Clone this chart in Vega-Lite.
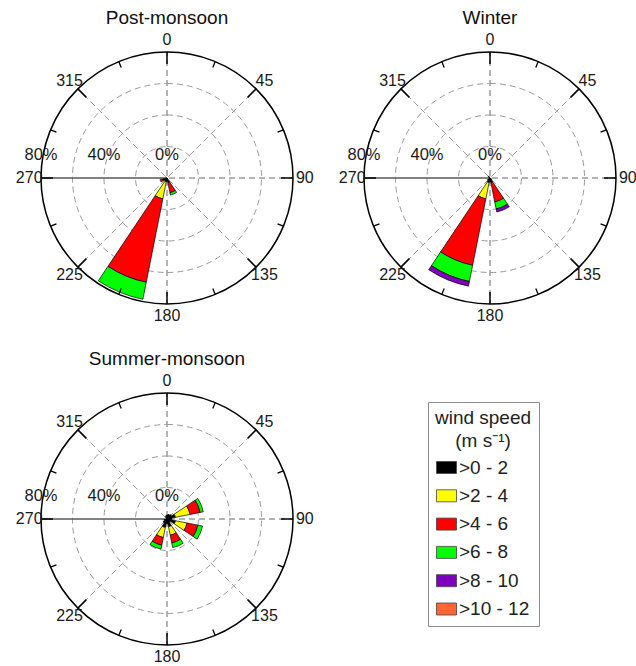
{
  "$schema": "https://vega.github.io/schema/vega-lite/v6.json",
  "padding": {"left": 15, "top": 9, "right": 0, "bottom": 0},
  "bounds": "flush",
  "spacing": 341,
  "resolve": {"scale": {"theta": "independent", "radius": "independent", "color": "shared"}, "legend": {"color": "shared"}},
  "datasets": {
    "wind": [
      {"season": "Post-monsoon", "dir": 202.5, "speed": ">0 - 2", "lo": 0, "hi": 2.5},
      {"season": "Post-monsoon", "dir": 202.5, "speed": ">2 - 4", "lo": 2.5, "hi": 13.5},
      {"season": "Post-monsoon", "dir": 202.5, "speed": ">4 - 6", "lo": 13.5, "hi": 67.5},
      {"season": "Post-monsoon", "dir": 202.5, "speed": ">6 - 8", "lo": 67.5, "hi": 78.5},
      {"season": "Post-monsoon", "dir": 157.5, "speed": ">0 - 2", "lo": 0, "hi": 3},
      {"season": "Post-monsoon", "dir": 157.5, "speed": ">4 - 6", "lo": 3, "hi": 9.5},
      {"season": "Post-monsoon", "dir": 157.5, "speed": ">6 - 8", "lo": 9.5, "hi": 11},
      {"season": "Post-monsoon", "dir": 247.5, "speed": ">0 - 2", "lo": 0, "hi": 3},
      {"season": "Post-monsoon", "dir": 247.5, "speed": ">4 - 6", "lo": 3, "hi": 4.5},
      {"season": "Post-monsoon", "dir": 180, "speed": ">0 - 2", "lo": 0, "hi": 2},
      {"season": "Post-monsoon", "dir": 225, "speed": ">0 - 2", "lo": 0, "hi": 2},
      {"season": "Winter", "dir": 202.5, "speed": ">0 - 2", "lo": 0, "hi": 3},
      {"season": "Winter", "dir": 202.5, "speed": ">2 - 4", "lo": 3, "hi": 13.5},
      {"season": "Winter", "dir": 202.5, "speed": ">4 - 6", "lo": 13.5, "hi": 56.5},
      {"season": "Winter", "dir": 202.5, "speed": ">6 - 8", "lo": 56.5, "hi": 67},
      {"season": "Winter", "dir": 202.5, "speed": ">8 - 10", "lo": 67, "hi": 70},
      {"season": "Winter", "dir": 157.5, "speed": ">0 - 2", "lo": 0, "hi": 3},
      {"season": "Winter", "dir": 157.5, "speed": ">4 - 6", "lo": 3, "hi": 15.5},
      {"season": "Winter", "dir": 157.5, "speed": ">6 - 8", "lo": 15.5, "hi": 20},
      {"season": "Winter", "dir": 157.5, "speed": ">8 - 10", "lo": 20, "hi": 22},
      {"season": "Winter", "dir": 180, "speed": ">0 - 2", "lo": 0, "hi": 2.5},
      {"season": "Winter", "dir": 225, "speed": ">0 - 2", "lo": 0, "hi": 2},
      {"season": "Winter", "dir": 135, "speed": ">0 - 2", "lo": 0, "hi": 1.5},
      {"season": "Winter", "dir": 315, "speed": ">0 - 2", "lo": 0, "hi": 1.5},
      {"season": "Summer-monsoon", "dir": 67.5, "speed": ">0 - 2", "lo": 0, "hi": 5.5},
      {"season": "Summer-monsoon", "dir": 67.5, "speed": ">2 - 4", "lo": 5.5, "hi": 15},
      {"season": "Summer-monsoon", "dir": 67.5, "speed": ">4 - 6", "lo": 15, "hi": 21.5},
      {"season": "Summer-monsoon", "dir": 67.5, "speed": ">6 - 8", "lo": 21.5, "hi": 23.5},
      {"season": "Summer-monsoon", "dir": 112.5, "speed": ">0 - 2", "lo": 0, "hi": 5.5},
      {"season": "Summer-monsoon", "dir": 112.5, "speed": ">2 - 4", "lo": 5.5, "hi": 13},
      {"season": "Summer-monsoon", "dir": 112.5, "speed": ">4 - 6", "lo": 13, "hi": 20},
      {"season": "Summer-monsoon", "dir": 112.5, "speed": ">6 - 8", "lo": 20, "hi": 23},
      {"season": "Summer-monsoon", "dir": 157.5, "speed": ">0 - 2", "lo": 0, "hi": 5},
      {"season": "Summer-monsoon", "dir": 157.5, "speed": ">2 - 4", "lo": 5, "hi": 10.5},
      {"season": "Summer-monsoon", "dir": 157.5, "speed": ">4 - 6", "lo": 10.5, "hi": 15.5},
      {"season": "Summer-monsoon", "dir": 157.5, "speed": ">6 - 8", "lo": 15.5, "hi": 18.5},
      {"season": "Summer-monsoon", "dir": 202.5, "speed": ">0 - 2", "lo": 0, "hi": 5.5},
      {"season": "Summer-monsoon", "dir": 202.5, "speed": ">2 - 4", "lo": 5.5, "hi": 12},
      {"season": "Summer-monsoon", "dir": 202.5, "speed": ">4 - 6", "lo": 12, "hi": 17},
      {"season": "Summer-monsoon", "dir": 202.5, "speed": ">6 - 8", "lo": 17, "hi": 19.5},
      {"season": "Summer-monsoon", "dir": 0, "speed": ">0 - 2", "lo": 0, "hi": 2.5},
      {"season": "Summer-monsoon", "dir": 22.5, "speed": ">0 - 2", "lo": 0, "hi": 3},
      {"season": "Summer-monsoon", "dir": 45, "speed": ">0 - 2", "lo": 0, "hi": 3.5},
      {"season": "Summer-monsoon", "dir": 90, "speed": ">0 - 2", "lo": 0, "hi": 3},
      {"season": "Summer-monsoon", "dir": 135, "speed": ">0 - 2", "lo": 0, "hi": 2.5},
      {"season": "Summer-monsoon", "dir": 180, "speed": ">0 - 2", "lo": 0, "hi": 3},
      {"season": "Summer-monsoon", "dir": 225, "speed": ">0 - 2", "lo": 0, "hi": 3},
      {"season": "Summer-monsoon", "dir": 247.5, "speed": ">0 - 2", "lo": 0, "hi": 2},
      {"season": "Summer-monsoon", "dir": 337.5, "speed": ">0 - 2", "lo": 0, "hi": 2}
    ],
    "rings": [{"r": 20}, {"r": 40}, {"r": 60}],
    "outer": [{"r": 80}],
    "spokes": [{"a": 0}, {"a": 45}, {"a": 90}, {"a": 135}, {"a": 180}, {"a": 225}, {"a": 315}],
    "raxis": [{"a": 270}],
    "ticks": [
      {"a": 0, "k": "major"}, {"a": 22.5, "k": "minor"}, {"a": 45, "k": "major"}, {"a": 67.5, "k": "minor"},
      {"a": 90, "k": "major"}, {"a": 112.5, "k": "minor"}, {"a": 135, "k": "major"}, {"a": 157.5, "k": "minor"},
      {"a": 180, "k": "major"}, {"a": 202.5, "k": "minor"}, {"a": 225, "k": "major"}, {"a": 247.5, "k": "minor"},
      {"a": 270, "k": "major"}, {"a": 292.5, "k": "minor"}, {"a": 315, "k": "major"}, {"a": 337.5, "k": "minor"}
    ],
    "dirlab": [
      {"a": 0, "t": "0"}, {"a": 45, "t": "45"}, {"a": 90, "t": "90"}, {"a": 135, "t": "135"},
      {"a": 180, "t": "180"}, {"a": 225, "t": "225"}, {"a": 270, "t": "270"}, {"a": 315, "t": "315"}
    ],
    "pct": [{"p": 0, "t": "0%"}, {"p": 40, "t": "40%"}, {"p": 80, "t": "80%"}]
  },
  "vconcat": [
    {
      "hconcat": [
        {
          "title": "Post-monsoon",
          "width": 290, "height": 290,
          "resolve": {"scale": {"theta": "independent"}},
          "layer": [
            {"data": {"name": "rings"}, "mark": {"type": "arc", "filled": false, "stroke": "#9a9a9a", "strokeWidth": 1, "strokeDash": [6, 4]},
             "encoding": {"theta": {"datum": 0, "type": "quantitative", "scale": {"type": "linear", "domain": [0, 360], "range": [0, 6.283185307179586], "zero": false, "nice": false}}, "theta2": {"datum": 360},
               "radius": {"field": "r", "type": "quantitative", "scale": {"type": "linear", "domain": [0, 80], "range": [0, 126], "zero": true, "nice": false}}, "radius2": {"datum": 0}}},
            {"data": {"name": "spokes"}, "mark": {"type": "arc", "filled": false, "stroke": "#9a9a9a", "strokeWidth": 1, "strokeDash": [6, 4], "strokeDashOffset": 2},
             "encoding": {"theta": {"field": "a", "type": "quantitative", "scale": {"type": "linear", "domain": [0, 360], "range": [0, 6.283185307179586], "zero": false, "nice": false}}, "theta2": {"field": "a"},
               "radius": {"datum": 80, "type": "quantitative", "scale": {"type": "linear", "domain": [0, 80], "range": [0, 126], "zero": true, "nice": false}}, "radius2": {"datum": 0}}},
            {"data": {"name": "raxis"}, "mark": {"type": "arc", "filled": false, "stroke": "#5a5a5a", "strokeWidth": 1.3},
             "encoding": {"theta": {"field": "a", "type": "quantitative", "scale": {"type": "linear", "domain": [0, 360], "range": [0, 6.283185307179586], "zero": false, "nice": false}}, "theta2": {"field": "a"},
               "radius": {"datum": 80, "type": "quantitative", "scale": {"type": "linear", "domain": [0, 80], "range": [0, 126], "zero": true, "nice": false}}, "radius2": {"datum": 0}}},
            {"data": {"name": "wind"}, "transform": [{"filter": "datum.season === 'Post-monsoon'"}],
             "mark": {"type": "arc", "stroke": "#000000", "strokeWidth": 0.7},
             "encoding": {
               "theta": {"field": "dir", "type": "ordinal", "scale": {"type": "band", "domain": [0, 22.5, 45, 67.5, 90, 112.5, 135, 157.5, 180, 202.5, 225, 247.5, 270, 292.5, 315, 337.5], "range": [-0.19634954084936207, 6.086835766330224], "paddingInner": 0, "paddingOuter": 0}},
               "radius": {"field": "hi", "type": "quantitative", "scale": {"type": "linear", "domain": [0, 80], "range": [0, 126], "zero": true, "nice": false}},
               "radius2": {"field": "lo"},
               "color": {"field": "speed", "type": "nominal", "title": ["wind speed", "(m s⁻¹)"],
                 "scale": {"domain": [">0 - 2", ">2 - 4", ">4 - 6", ">6 - 8", ">8 - 10", ">10 - 12"], "range": ["#000000", "#ffff00", "#ff0000", "#00ff00", "#8000c0", "#ff6633"]},
                 "legend": {"orient": "none", "legendX": 406, "legendY": 369}}}},
            {"data": {"name": "outer"}, "mark": {"type": "arc", "filled": false, "stroke": "#000000", "strokeWidth": 1.5},
             "encoding": {"theta": {"datum": 0, "type": "quantitative", "scale": {"type": "linear", "domain": [0, 360], "range": [0, 6.283185307179586], "zero": false, "nice": false}}, "theta2": {"datum": 360},
               "radius": {"field": "r", "type": "quantitative", "scale": {"type": "linear", "domain": [0, 80], "range": [0, 126], "zero": true, "nice": false}}, "radius2": {"datum": 0}}},
            {"data": {"name": "ticks"}, "transform": [{"filter": "datum.k === 'major'"}], "mark": {"type": "arc", "filled": false, "stroke": "#000000", "strokeWidth": 1.5},
             "encoding": {"theta": {"field": "a", "type": "quantitative", "scale": {"type": "linear", "domain": [0, 360], "range": [0, 6.283185307179586], "zero": false, "nice": false}}, "theta2": {"field": "a"},
               "radius": {"datum": 80, "type": "quantitative", "scale": {"type": "linear", "domain": [0, 80], "range": [0, 126], "zero": true, "nice": false}}, "radius2": {"datum": 72.4}}},
            {"data": {"name": "ticks"}, "transform": [{"filter": "datum.k === 'minor'"}], "mark": {"type": "arc", "filled": false, "stroke": "#000000", "strokeWidth": 1.3},
             "encoding": {"theta": {"field": "a", "type": "quantitative", "scale": {"type": "linear", "domain": [0, 360], "range": [0, 6.283185307179586], "zero": false, "nice": false}}, "theta2": {"field": "a"},
               "radius": {"datum": 80, "type": "quantitative", "scale": {"type": "linear", "domain": [0, 80], "range": [0, 126], "zero": true, "nice": false}}, "radius2": {"datum": 76}}},
            {"data": {"name": "dirlab"}, "mark": {"type": "text", "fontSize": 16, "color": "#1a1a1a"},
             "encoding": {"theta": {"field": "a", "type": "quantitative", "scale": {"type": "linear", "domain": [0, 360], "range": [0, 6.283185307179586], "zero": false, "nice": false}},
               "radius": {"datum": 87.5, "type": "quantitative", "scale": {"type": "linear", "domain": [0, 80], "range": [0, 126], "zero": true, "nice": false}}, "text": {"field": "t"}}},
            {"data": {"name": "pct"}, "mark": {"type": "text", "fontSize": 16.5, "color": "#1a1a1a", "dy": -23},
             "encoding": {"theta": {"datum": 270, "type": "quantitative", "scale": {"type": "linear", "domain": [0, 360], "range": [0, 6.283185307179586], "zero": false, "nice": false}},
               "radius": {"field": "p", "type": "quantitative", "scale": {"type": "linear", "domain": [0, 80], "range": [0, 126], "zero": true, "nice": false}}, "text": {"field": "t"}}}
          ]
        },
        {
          "title": "Winter",
          "width": 290, "height": 290,
          "resolve": {"scale": {"theta": "independent"}},
          "layer": [
            {"data": {"name": "rings"}, "mark": {"type": "arc", "filled": false, "stroke": "#9a9a9a", "strokeWidth": 1, "strokeDash": [6, 4]},
             "encoding": {"theta": {"datum": 0, "type": "quantitative", "scale": {"type": "linear", "domain": [0, 360], "range": [0, 6.283185307179586], "zero": false, "nice": false}}, "theta2": {"datum": 360},
               "radius": {"field": "r", "type": "quantitative", "scale": {"type": "linear", "domain": [0, 80], "range": [0, 126], "zero": true, "nice": false}}, "radius2": {"datum": 0}}},
            {"data": {"name": "spokes"}, "mark": {"type": "arc", "filled": false, "stroke": "#9a9a9a", "strokeWidth": 1, "strokeDash": [6, 4], "strokeDashOffset": 2},
             "encoding": {"theta": {"field": "a", "type": "quantitative", "scale": {"type": "linear", "domain": [0, 360], "range": [0, 6.283185307179586], "zero": false, "nice": false}}, "theta2": {"field": "a"},
               "radius": {"datum": 80, "type": "quantitative", "scale": {"type": "linear", "domain": [0, 80], "range": [0, 126], "zero": true, "nice": false}}, "radius2": {"datum": 0}}},
            {"data": {"name": "raxis"}, "mark": {"type": "arc", "filled": false, "stroke": "#5a5a5a", "strokeWidth": 1.3},
             "encoding": {"theta": {"field": "a", "type": "quantitative", "scale": {"type": "linear", "domain": [0, 360], "range": [0, 6.283185307179586], "zero": false, "nice": false}}, "theta2": {"field": "a"},
               "radius": {"datum": 80, "type": "quantitative", "scale": {"type": "linear", "domain": [0, 80], "range": [0, 126], "zero": true, "nice": false}}, "radius2": {"datum": 0}}},
            {"data": {"name": "wind"}, "transform": [{"filter": "datum.season === 'Winter'"}],
             "mark": {"type": "arc", "stroke": "#000000", "strokeWidth": 0.7},
             "encoding": {
               "theta": {"field": "dir", "type": "ordinal", "scale": {"type": "band", "domain": [0, 22.5, 45, 67.5, 90, 112.5, 135, 157.5, 180, 202.5, 225, 247.5, 270, 292.5, 315, 337.5], "range": [-0.19634954084936207, 6.086835766330224], "paddingInner": 0, "paddingOuter": 0}},
               "radius": {"field": "hi", "type": "quantitative", "scale": {"type": "linear", "domain": [0, 80], "range": [0, 126], "zero": true, "nice": false}},
               "radius2": {"field": "lo"},
               "color": {"field": "speed", "type": "nominal", "title": ["wind speed", "(m s⁻¹)"],
                 "scale": {"domain": [">0 - 2", ">2 - 4", ">4 - 6", ">6 - 8", ">8 - 10", ">10 - 12"], "range": ["#000000", "#ffff00", "#ff0000", "#00ff00", "#8000c0", "#ff6633"]},
                 "legend": {"orient": "none", "legendX": 406, "legendY": 369}}}},
            {"data": {"name": "outer"}, "mark": {"type": "arc", "filled": false, "stroke": "#000000", "strokeWidth": 1.5},
             "encoding": {"theta": {"datum": 0, "type": "quantitative", "scale": {"type": "linear", "domain": [0, 360], "range": [0, 6.283185307179586], "zero": false, "nice": false}}, "theta2": {"datum": 360},
               "radius": {"field": "r", "type": "quantitative", "scale": {"type": "linear", "domain": [0, 80], "range": [0, 126], "zero": true, "nice": false}}, "radius2": {"datum": 0}}},
            {"data": {"name": "ticks"}, "transform": [{"filter": "datum.k === 'major'"}], "mark": {"type": "arc", "filled": false, "stroke": "#000000", "strokeWidth": 1.5},
             "encoding": {"theta": {"field": "a", "type": "quantitative", "scale": {"type": "linear", "domain": [0, 360], "range": [0, 6.283185307179586], "zero": false, "nice": false}}, "theta2": {"field": "a"},
               "radius": {"datum": 80, "type": "quantitative", "scale": {"type": "linear", "domain": [0, 80], "range": [0, 126], "zero": true, "nice": false}}, "radius2": {"datum": 72.4}}},
            {"data": {"name": "ticks"}, "transform": [{"filter": "datum.k === 'minor'"}], "mark": {"type": "arc", "filled": false, "stroke": "#000000", "strokeWidth": 1.3},
             "encoding": {"theta": {"field": "a", "type": "quantitative", "scale": {"type": "linear", "domain": [0, 360], "range": [0, 6.283185307179586], "zero": false, "nice": false}}, "theta2": {"field": "a"},
               "radius": {"datum": 80, "type": "quantitative", "scale": {"type": "linear", "domain": [0, 80], "range": [0, 126], "zero": true, "nice": false}}, "radius2": {"datum": 76}}},
            {"data": {"name": "dirlab"}, "mark": {"type": "text", "fontSize": 16, "color": "#1a1a1a"},
             "encoding": {"theta": {"field": "a", "type": "quantitative", "scale": {"type": "linear", "domain": [0, 360], "range": [0, 6.283185307179586], "zero": false, "nice": false}},
               "radius": {"datum": 87.5, "type": "quantitative", "scale": {"type": "linear", "domain": [0, 80], "range": [0, 126], "zero": true, "nice": false}}, "text": {"field": "t"}}},
            {"data": {"name": "pct"}, "mark": {"type": "text", "fontSize": 16.5, "color": "#1a1a1a", "dy": -23},
             "encoding": {"theta": {"datum": 270, "type": "quantitative", "scale": {"type": "linear", "domain": [0, 360], "range": [0, 6.283185307179586], "zero": false, "nice": false}},
               "radius": {"field": "p", "type": "quantitative", "scale": {"type": "linear", "domain": [0, 80], "range": [0, 126], "zero": true, "nice": false}}, "text": {"field": "t"}}}
          ]
        }
      ],
      "spacing": 33,
      "bounds": "flush",
      "resolve": {"scale": {"theta": "independent", "radius": "independent", "color": "shared"}, "legend": {"color": "shared"}}
    },
    {
      "title": "Summer-monsoon",
      "width": 290, "height": 290,
      "resolve": {"scale": {"theta": "independent"}},
      "layer": [
        {"data": {"name": "rings"}, "mark": {"type": "arc", "filled": false, "stroke": "#9a9a9a", "strokeWidth": 1, "strokeDash": [6, 4]},
         "encoding": {"theta": {"datum": 0, "type": "quantitative", "scale": {"type": "linear", "domain": [0, 360], "range": [0, 6.283185307179586], "zero": false, "nice": false}}, "theta2": {"datum": 360},
           "radius": {"field": "r", "type": "quantitative", "scale": {"type": "linear", "domain": [0, 80], "range": [0, 126], "zero": true, "nice": false}}, "radius2": {"datum": 0}}},
        {"data": {"name": "spokes"}, "mark": {"type": "arc", "filled": false, "stroke": "#9a9a9a", "strokeWidth": 1, "strokeDash": [6, 4], "strokeDashOffset": 2},
         "encoding": {"theta": {"field": "a", "type": "quantitative", "scale": {"type": "linear", "domain": [0, 360], "range": [0, 6.283185307179586], "zero": false, "nice": false}}, "theta2": {"field": "a"},
           "radius": {"datum": 80, "type": "quantitative", "scale": {"type": "linear", "domain": [0, 80], "range": [0, 126], "zero": true, "nice": false}}, "radius2": {"datum": 0}}},
        {"data": {"name": "raxis"}, "mark": {"type": "arc", "filled": false, "stroke": "#5a5a5a", "strokeWidth": 1.3},
         "encoding": {"theta": {"field": "a", "type": "quantitative", "scale": {"type": "linear", "domain": [0, 360], "range": [0, 6.283185307179586], "zero": false, "nice": false}}, "theta2": {"field": "a"},
           "radius": {"datum": 80, "type": "quantitative", "scale": {"type": "linear", "domain": [0, 80], "range": [0, 126], "zero": true, "nice": false}}, "radius2": {"datum": 0}}},
        {"data": {"name": "wind"}, "transform": [{"filter": "datum.season === 'Summer-monsoon'"}],
         "mark": {"type": "arc", "stroke": "#000000", "strokeWidth": 0.7},
         "encoding": {
           "theta": {"field": "dir", "type": "ordinal", "scale": {"type": "band", "domain": [0, 22.5, 45, 67.5, 90, 112.5, 135, 157.5, 180, 202.5, 225, 247.5, 270, 292.5, 315, 337.5], "range": [-0.19634954084936207, 6.086835766330224], "paddingInner": 0, "paddingOuter": 0}},
           "radius": {"field": "hi", "type": "quantitative", "scale": {"type": "linear", "domain": [0, 80], "range": [0, 126], "zero": true, "nice": false}},
           "radius2": {"field": "lo"},
           "color": {"field": "speed", "type": "nominal", "title": ["wind speed", "(m s⁻¹)"],
             "scale": {"domain": [">0 - 2", ">2 - 4", ">4 - 6", ">6 - 8", ">8 - 10", ">10 - 12"], "range": ["#000000", "#ffff00", "#ff0000", "#00ff00", "#8000c0", "#ff6633"]},
             "legend": {"orient": "none", "legendX": 406, "legendY": 369}}}},
        {"data": {"name": "outer"}, "mark": {"type": "arc", "filled": false, "stroke": "#000000", "strokeWidth": 1.5},
         "encoding": {"theta": {"datum": 0, "type": "quantitative", "scale": {"type": "linear", "domain": [0, 360], "range": [0, 6.283185307179586], "zero": false, "nice": false}}, "theta2": {"datum": 360},
           "radius": {"field": "r", "type": "quantitative", "scale": {"type": "linear", "domain": [0, 80], "range": [0, 126], "zero": true, "nice": false}}, "radius2": {"datum": 0}}},
        {"data": {"name": "ticks"}, "transform": [{"filter": "datum.k === 'major'"}], "mark": {"type": "arc", "filled": false, "stroke": "#000000", "strokeWidth": 1.5},
         "encoding": {"theta": {"field": "a", "type": "quantitative", "scale": {"type": "linear", "domain": [0, 360], "range": [0, 6.283185307179586], "zero": false, "nice": false}}, "theta2": {"field": "a"},
           "radius": {"datum": 80, "type": "quantitative", "scale": {"type": "linear", "domain": [0, 80], "range": [0, 126], "zero": true, "nice": false}}, "radius2": {"datum": 72.4}}},
        {"data": {"name": "ticks"}, "transform": [{"filter": "datum.k === 'minor'"}], "mark": {"type": "arc", "filled": false, "stroke": "#000000", "strokeWidth": 1.3},
         "encoding": {"theta": {"field": "a", "type": "quantitative", "scale": {"type": "linear", "domain": [0, 360], "range": [0, 6.283185307179586], "zero": false, "nice": false}}, "theta2": {"field": "a"},
           "radius": {"datum": 80, "type": "quantitative", "scale": {"type": "linear", "domain": [0, 80], "range": [0, 126], "zero": true, "nice": false}}, "radius2": {"datum": 76}}},
        {"data": {"name": "dirlab"}, "mark": {"type": "text", "fontSize": 16, "color": "#1a1a1a"},
         "encoding": {"theta": {"field": "a", "type": "quantitative", "scale": {"type": "linear", "domain": [0, 360], "range": [0, 6.283185307179586], "zero": false, "nice": false}},
           "radius": {"datum": 87.5, "type": "quantitative", "scale": {"type": "linear", "domain": [0, 80], "range": [0, 126], "zero": true, "nice": false}}, "text": {"field": "t"}}},
        {"data": {"name": "pct"}, "mark": {"type": "text", "fontSize": 16.5, "color": "#1a1a1a", "dy": -23},
         "encoding": {"theta": {"datum": 270, "type": "quantitative", "scale": {"type": "linear", "domain": [0, 360], "range": [0, 6.283185307179586], "zero": false, "nice": false}},
           "radius": {"field": "p", "type": "quantitative", "scale": {"type": "linear", "domain": [0, 80], "range": [0, 126], "zero": true, "nice": false}}, "text": {"field": "t"}}}
      ]
    }
  ],
  "config": {
    "font": "Liberation Sans",
    "view": {"stroke": null},
    "title": {"fontSize": 19, "fontWeight": "normal", "color": "#111111", "anchor": "middle", "offset": 4},
    "legend": {
      "titleFontSize": 19, "titleFontWeight": "normal", "titleColor": "#222222", "titleAlign": "center", "titleAnchor": "middle",
      "titleLineHeight": 23, "titlePadding": 6, "titleLimit": 300,
      "labelFontSize": 19, "labelColor": "#222222", "labelOffset": 2, "labelLimit": 300,
      "rowPadding": 7.3, "symbolType": "M-1,-0.6H1V0.6H-1Z", "symbolSize": 400,
      "symbolStrokeColor": "#444444", "symbolStrokeWidth": 0.8,
      "strokeColor": "#8c8c8c", "padding": 7, "fillColor": "#ffffff"
    }
  }
}
